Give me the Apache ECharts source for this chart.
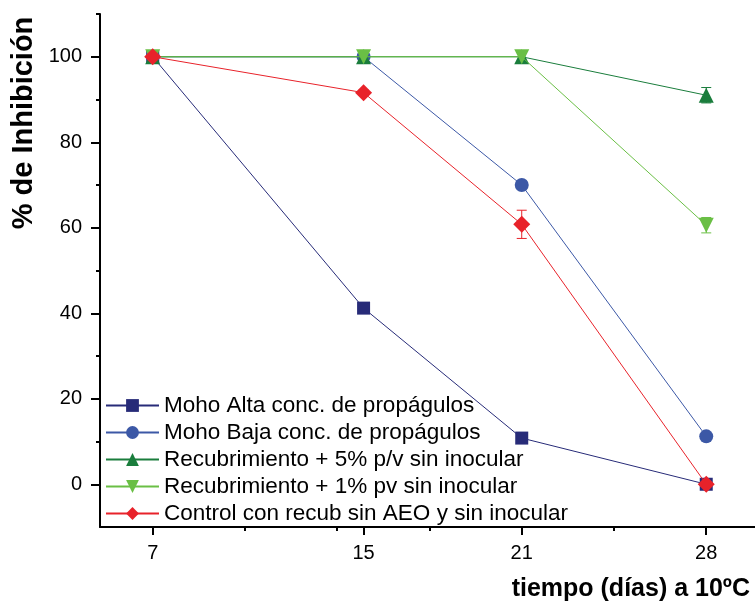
<!DOCTYPE html>
<html>
<head>
<meta charset="utf-8">
<script src="https://cdn.jsdelivr.net/npm/echarts@6/dist/echarts.min.js"></script>
<style>
  html, body { margin: 0; padding: 0; background: #fff; }
  #chart { width: 755px; height: 603px; }
</style>
</head>
<body>
<div id="chart"></div>
<script>
// days of storage
const dias = [7, 15, 21, 28];
const ticksMayores = [7, 15, 21, 28];
const ticksMenores = [10.5, 14, 17.5, 24.5];
const ticksY = [0, 20, 40, 60, 80, 100];
const ticksYMenores = [10, 30, 50, 70, 90, 110];

const nombres = [
  'Moho Alta conc. de propágulos',
  'Moho Baja conc. de propágulos',
  'Recubrimiento + 5% p/v sin inocular',
  'Recubrimiento + 1% pv sin inocular',
  'Control con recub sin AEO y sin inocular'
];

// % inhibicion
const mohoAlta = [100, 41.2, 10.8, 0];
const mohoBaja = [100, 100, 70, 11.2];
const recub5 = [100, 100, 100, 91];
const recub1 = [100, 100, 100, 60.6];
const control = [100, 91.6, 60.8, 0];

// desviaciones
const errRecub5 = [0, 0, 0, 1.8];
const errRecub1 = [0, 0, 0, 1.8];
const errControl = [0, 0.6, 3.3, 0];

const colores = ['#272b78', '#3c58a6', '#1a7d3c', '#6abf45', '#e8222a'];
const simbolos = ['rect', 'circle', 'triangle', 'path://M0,0 L10,0 L5,9 Z', 'diamond'];
const tamanos = [13, 14, 15, 15, 17];
const valores = [mohoAlta, mohoBaja, recub5, recub1, control];
const errores = [null, null, errRecub5, errRecub1, errControl];

const fuente = '"Liberation Sans", Arial, sans-serif';
const chart = echarts.init(document.getElementById('chart'));

const series = [];
valores.forEach(function (vals, k) {
  series.push({
    name: nombres[k],
    type: 'line',
    data: dias.map((d, i) => [d, vals[i]]),
    symbol: simbolos[k],
    symbolSize: tamanos[k],
    color: colores[k],
    lineStyle: { width: 1, color: colores[k] },
    itemStyle: { color: colores[k] },
    z: 3 + k
  });
  if (errores[k]) {
    const e = errores[k];
    series.push({
      type: 'custom',
      data: dias.map((d, i) => [d, vals[i] - e[i], vals[i] + e[i]]).filter((r, i) => e[i] > 0),
      z: 3 + k,
      renderItem: function (params, api) {
        const lo = api.coord([api.value(0), api.value(1)]);
        const hi = api.coord([api.value(0), api.value(2)]);
        const w = 5;
        const st = { stroke: colores[k], lineWidth: 1 };
        return {
          type: 'group',
          children: [
            { type: 'line', shape: { x1: lo[0], y1: lo[1], x2: hi[0], y2: hi[1] }, style: st },
            { type: 'line', shape: { x1: lo[0] - w, y1: lo[1], x2: lo[0] + w, y2: lo[1] }, style: st },
            { type: 'line', shape: { x1: hi[0] - w, y1: hi[1], x2: hi[0] + w, y2: hi[1] }, style: st }
          ]
        };
      }
    });
  }
});

chart.setOption({
  animation: false,
  textStyle: { fontFamily: fuente },
  grid: { left: 100, right: 0, top: 14, bottom: 76 },
  legend: {
    data: nombres,
    orient: 'vertical',
    left: 100,
    top: 389,
    itemWidth: 53,
    itemHeight: 16,
    itemGap: 4,
    textStyle: { fontSize: 22.5, color: '#000', lineHeight: 22, fontFamily: fuente }
  },
  xAxis: [{
    type: 'value',
    min: 5,
    max: 29.85,
    position: 'bottom',
    splitLine: { show: false },
    axisLine: { onZero: false, lineStyle: { color: '#000', width: 2 } },
    axisTick: { customValues: ticksMayores, length: 8, lineStyle: { color: '#000', width: 2 } },
    axisLabel: { customValues: ticksMayores, fontSize: 20, color: '#000', margin: 16 }
  }, {
    type: 'value',
    min: 5,
    max: 29.85,
    position: 'bottom',
    splitLine: { show: false },
    axisLine: { show: false, onZero: false },
    axisTick: { customValues: ticksMenores, length: 4, lineStyle: { color: '#000', width: 2 } },
    axisLabel: { show: false }
  }],
  yAxis: [{
    type: 'value',
    min: -10,
    max: 110,
    splitLine: { show: false },
    axisLine: { show: true, onZero: false, lineStyle: { color: '#000', width: 2 } },
    axisTick: { show: true, customValues: ticksY, length: 9, lineStyle: { color: '#000', width: 2 } },
    axisLabel: { customValues: ticksY, fontSize: 20, color: '#000', margin: 18 }
  }, {
    type: 'value',
    min: -10,
    max: 110,
    position: 'left',
    splitLine: { show: false },
    axisLine: { show: false, onZero: false },
    axisTick: { show: true, customValues: ticksYMenores, length: 4, lineStyle: { color: '#000', width: 2 } },
    axisLabel: { show: false }
  }],
  graphic: [{
    type: 'text',
    x: 24,
    y: 123,
    rotation: Math.PI / 2,
    style: {
      text: '% de Inhibición',
      font: 'bold 29px ' + fuente,
      fill: '#000',
      align: 'center',
      verticalAlign: 'middle'
    }
  }, {
    type: 'text',
    right: 5,
    top: 577,
    style: {
      text: 'tiempo (días) a 10ºC',
      font: 'bold 25px ' + fuente,
      fill: '#000'
    }
  }],
  series: series
});
</script>
</body>
</html>
